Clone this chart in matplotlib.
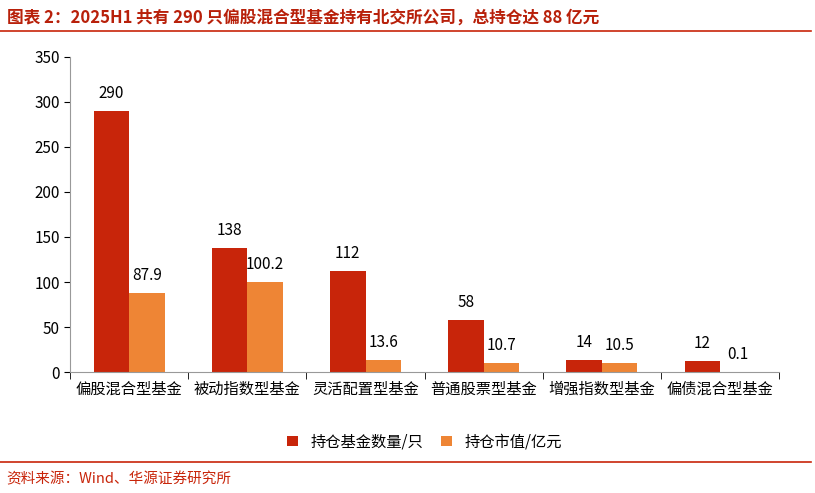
import numpy as np
import matplotlib.pyplot as plt
from matplotlib.lines import Line2D

plt.rcParams['font.family'] = ['Noto Sans CJK SC', 'DejaVu Sans']

categories = ['偏股混合型基金', '被动指数型基金', '灵活配置型基金', '普通股票型基金', '增强指数型基金', '偏债混合型基金']
fund_count = [290, 138, 112, 58, 14, 12]
holding_value = [87.9, 100.2, 13.6, 10.7, 10.5, 0.1]
count_labels = ['290', '138', '112', '58', '14', '12']
value_labels = ['87.9', '100.2', '13.6', '10.7', '10.5', '0.1']

red = '#C8250A'
orange = '#EE8535'

fig = plt.figure(figsize=(8.15, 4.93), dpi=100)
ax = fig.add_axes([0.086, 0.245, 0.87, 0.64])

x = np.arange(len(categories))
w = 0.3
b1 = ax.bar(x - w / 2, fund_count, w, color=red, label='持仓基金数量/只')
b2 = ax.bar(x + w / 2, holding_value, w, color=orange, label='持仓市值/亿元')
for rect, t in zip(b1, count_labels):
    ax.text(rect.get_x() + rect.get_width() / 2, rect.get_height() + 10, t,
            ha='center', va='bottom', fontsize=11)
for rect, t in zip(b2, value_labels):
    ax.text(rect.get_x() + rect.get_width() / 2, rect.get_height() + 10, t,
            ha='center', va='bottom', fontsize=11)

ax.set_xlim(-0.5, len(categories) - 0.5)
ax.set_ylim(0, 350)
ax.set_yticks(range(0, 351, 50))
ax.set_xticks(x)
ax.set_xticklabels(categories, fontsize=11)
ax.tick_params(axis='x', length=0, pad=6)
ax.set_xticks(np.arange(-0.5, len(categories)), minor=True)
ax.tick_params(axis='x', which='minor', length=5, direction='out')
ax.tick_params(axis='y', labelsize=11, length=4)
for s in ['top', 'right']:
    ax.spines[s].set_visible(False)
ax.spines['left'].set_color('#999999')
ax.spines['bottom'].set_color('#999999')

ax.legend(loc='upper center', bbox_to_anchor=(0.5, -0.15), ncol=2, frameon=False,
          fontsize=11, handlelength=0.7, handleheight=0.7, columnspacing=1.2)

fig.text(0.008, 0.965, '图表 2：2025H1 共有 290 只偏股混合型基金持有北交所公司，总持仓达 88 亿元',
         color='#B8200A', fontsize=12, fontweight='bold', va='center')
fig.add_artist(Line2D([0.0, 0.995], [0.937, 0.937], color=red, lw=1.2))
fig.add_artist(Line2D([0.0, 0.995], [0.063, 0.063], color=red, lw=1.2))
fig.text(0.008, 0.028, '资料来源：Wind、华源证券研究所', color=red, fontsize=10.5, va='center')

fig.savefig('out.png', dpi=100)
